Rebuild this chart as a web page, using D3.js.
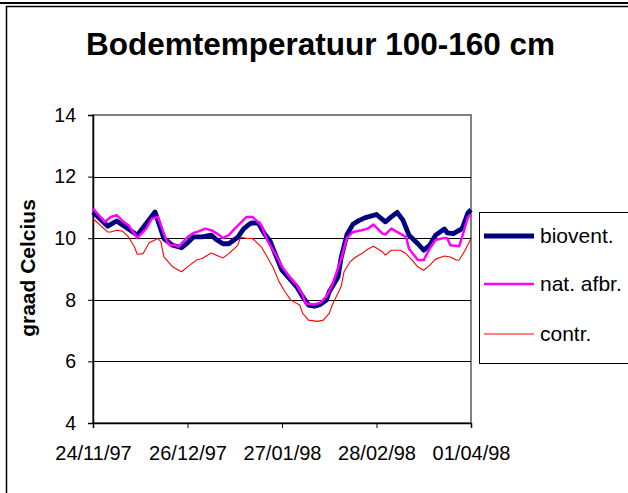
<!DOCTYPE html>
<html>
<head>
<meta charset="utf-8">
<script src="https://cdn.jsdelivr.net/npm/d3@7"></script>
<style>
  html, body { margin: 0; padding: 0; background: #fff; }
  svg { display: block; font-family: "Liberation Sans", Arial, sans-serif; }
</style>
</head>
<body>
<svg id="chart" width="628" height="493"></svg>
<script>
// Soil temperature at 100-160 cm depth, winter 1997/98, three plots
const startDate = "1997-11-24";
const endDate = "1998-04-01";
const tickDates = ["1997-11-24", "1997-12-26", "1998-01-27", "1998-02-28", "1998-04-01"];
const yTicks = [4, 6, 8, 10, 12, 14];
const seriesNames = ["biovent.", "nat. afbr.", "contr."];

// days after the start date, and temperature in degrees Celsius
const bioventDay  = [0, 5, 8, 15, 21, 24, 27, 30, 32, 34, 37, 40, 42, 44, 46, 49, 51, 53, 54, 56, 58, 60, 62, 64, 67, 69, 71, 73, 75, 77, 79, 80, 83, 84, 86, 88, 90, 92, 96, 99, 101, 103, 105, 107, 110, 112, 114, 116, 119, 120, 122, 125, 127, 128];
const bioventTemp = [10.85, 10.39, 10.56, 10.1, 10.85, 9.99, 9.77, 9.69, 9.85, 10.04, 10.04, 10.1, 9.94, 9.82, 9.82, 10.03, 10.3, 10.46, 10.5, 10.48, 10.15, 9.9, 9.42, 8.96, 8.64, 8.42, 8.1, 7.83, 7.79, 7.85, 7.99, 8.26, 8.75, 9.36, 10.12, 10.45, 10.57, 10.66, 10.77, 10.53, 10.69, 10.84, 10.58, 10.1, 9.82, 9.61, 9.77, 10.1, 10.3, 10.17, 10.15, 10.31, 10.83, 10.92];

const natDay  = [0, 4, 6, 8, 10, 12, 15, 18, 20, 22, 24, 25, 26, 28, 29, 32, 34, 36, 38, 40, 42, 44, 46, 48, 50, 52, 54, 57, 59, 61, 62, 64, 67, 69, 71, 72, 75, 77, 79, 81, 84, 86, 88, 91, 93, 95, 98, 99, 101, 104, 106, 107, 110, 112, 114, 116, 119, 120, 121, 124, 125, 127, 128];
const natTemp = [10.96, 10.53, 10.69, 10.75, 10.56, 10.42, 10.01, 10.31, 10.64, 10.69, 10.15, 9.9, 9.77, 9.77, 9.72, 10.04, 10.17, 10.23, 10.31, 10.26, 10.15, 10.01, 10.1, 10.31, 10.5, 10.69, 10.69, 10.42, 9.94, 9.6, 9.45, 9.07, 8.69, 8.48, 8.15, 7.88, 7.85, 7.91, 8.1, 8.48, 9.32, 10.01, 10.2, 10.26, 10.31, 10.44, 10.15, 10.12, 10.31, 10.15, 10.04, 9.66, 9.29, 9.29, 9.66, 9.94, 10.01, 9.99, 9.77, 9.74, 10.04, 10.69, 10.77];

const contrDay  = [0, 5, 6, 8, 10, 12, 14, 15, 17, 19, 22, 23, 24, 27, 29, 30, 32, 35, 37, 40, 44, 46, 49, 50, 52, 54, 57, 59, 61, 63, 65, 67, 70, 71, 73, 76, 78, 80, 81, 84, 85, 87, 89, 91, 93, 95, 98, 99, 101, 104, 106, 108, 110, 112, 114, 116, 119, 121, 123, 124, 126, 128];
const contrTemp = [10.64, 10.2, 10.2, 10.26, 10.23, 10.04, 9.72, 9.48, 9.5, 9.85, 9.99, 9.88, 9.39, 9.07, 8.96, 8.91, 9.07, 9.29, 9.34, 9.52, 9.36, 9.5, 9.77, 10.04, 9.99, 9.99, 9.72, 9.39, 9.05, 8.59, 8.26, 7.99, 7.83, 7.56, 7.34, 7.3, 7.34, 7.56, 7.83, 8.42, 8.91, 9.23, 9.39, 9.5, 9.64, 9.74, 9.56, 9.45, 9.61, 9.61, 9.5, 9.29, 9.07, 8.96, 9.12, 9.32, 9.42, 9.39, 9.29, 9.29, 9.61, 9.99];

const parse = d3.utcParse("%Y-%m-%d");
const t0 = parse(startDate);
const toPoints = (days, temps) => days.map((d, i) => ({ date: d3.utcDay.offset(t0, d), value: temps[i] }));

const series = [
  { name: seriesNames[0], points: toPoints(bioventDay, bioventTemp), color: "#000080", width: 4.8 },
  { name: seriesNames[1], points: toPoints(natDay, natTemp),         color: "#FF00FF", width: 2.5 },
  { name: seriesNames[2], points: toPoints(contrDay, contrTemp),     color: "#FF0000", width: 1.1 }
];

const svg = d3.select("#chart");
const plot = { left: 93, right: 471, top: 115, bottom: 423 };

const x = d3.scaleUtc().domain([parse(startDate), parse(endDate)]).range([plot.left, plot.right]);
const y = d3.scaleLinear().domain([4, 14]).range([plot.bottom, plot.top]);

// outer frame
svg.append("line").attr("x1", 0).attr("x2", 628).attr("y1", 3).attr("y2", 3)
  .attr("stroke", "#000").attr("stroke-width", 2);
svg.append("path").attr("d", "M6.5,493 V6.5 H628")
  .attr("fill", "none").attr("stroke", "#000").attr("stroke-width", 1.5);

// title
svg.append("text")
  .attr("x", 320.5).attr("y", 55)
  .attr("text-anchor", "middle")
  .attr("font-size", 31.5).attr("font-weight", "bold")
  .text("Bodemtemperatuur 100-160 cm");

// plot area border
svg.append("rect")
  .attr("x", plot.left).attr("y", plot.top)
  .attr("width", plot.right - plot.left).attr("height", plot.bottom - plot.top)
  .attr("fill", "none").attr("stroke", "#808080").attr("stroke-width", 2);

// horizontal gridlines
svg.append("g")
  .selectAll("line")
  .data(yTicks.filter(v => v > 4 && v < 14))
  .join("line")
  .attr("x1", plot.left).attr("x2", plot.right)
  .attr("y1", d => Math.round(y(d)) + 0.5).attr("y2", d => Math.round(y(d)) + 0.5)
  .attr("stroke", "#000").attr("stroke-width", 1);

// y axis
const yAxis = svg.append("g")
  .attr("transform", `translate(${plot.left},0)`)
  .call(d3.axisLeft(y).tickValues(yTicks).tickSize(5).tickPadding(12).tickFormat(d3.format("d")));
yAxis.select(".domain").attr("stroke", "#000").attr("stroke-width", 1.5);
yAxis.selectAll(".tick line").attr("stroke", "#000");
yAxis.selectAll("text").attr("font-size", 19.5).attr("fill", "#000")
  .attr("font-family", "'Liberation Sans', Arial, sans-serif");

// x axis
const xAxis = svg.append("g")
  .attr("transform", `translate(0,${plot.bottom})`)
  .call(d3.axisBottom(x).tickValues(tickDates.map(parse)).tickSize(5).tickPadding(18)
    .tickFormat(d3.utcFormat("%d/%m/%y")));
xAxis.select(".domain").attr("stroke", "#000").attr("stroke-width", 1.5);
xAxis.selectAll(".tick line").attr("stroke", "#000");
xAxis.selectAll("text").attr("font-size", 20).attr("fill", "#000")
  .attr("font-family", "'Liberation Sans', Arial, sans-serif");

// y axis title
svg.append("text")
  .attr("transform", "translate(35,268) rotate(-90)")
  .attr("text-anchor", "middle")
  .attr("font-size", 21).attr("font-weight", "bold")
  .text("graad Celcius");

// data lines
const line = d3.line().x(d => x(d.date)).y(d => y(d.value));
svg.append("g")
  .selectAll("path")
  .data(series)
  .join("path")
  .attr("d", d => line(d.points))
  .attr("fill", "none")
  .attr("stroke", d => d.color)
  .attr("stroke-width", d => d.width)
  .attr("stroke-linejoin", "round");

// legend
const legend = svg.append("g");
legend.append("rect")
  .attr("x", 479.5).attr("y", 212.5).attr("width", 170).attr("height", 151)
  .attr("fill", "#fff").attr("stroke", "#000").attr("stroke-width", 1);
const legendY = [236, 284, 334];
const items = legend.selectAll("g.item").data(series).join("g").attr("class", "item")
  .attr("transform", (d, i) => `translate(0,${legendY[i]})`);
items.append("line")
  .attr("x1", 484).attr("x2", 534).attr("y1", 0).attr("y2", 0)
  .attr("stroke", d => d.color).attr("stroke-width", d => d.width);
items.append("text")
  .attr("x", 540).attr("y", 7)
  .attr("font-size", 21)
  .text(d => d.name);
</script>
</body>
</html>
